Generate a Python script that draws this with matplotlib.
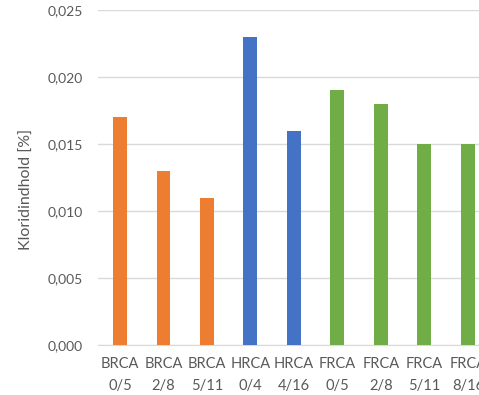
import matplotlib.pyplot as plt
from matplotlib.ticker import FuncFormatter

plt.rcParams['font.family'] = ['Lato', 'DejaVu Sans']

labels = ['BRCA\n0/5', 'BRCA\n2/8', 'BRCA\n5/11', 'HRCA\n0/4', 'HRCA\n4/16',
          'FRCA\n0/5', 'FRCA\n2/8', 'FRCA\n5/11', 'FRCA\n8/16']
values = [0.017, 0.013, 0.011, 0.023, 0.016, 0.019, 0.018, 0.015, 0.015]
groups = ['BR', 'BR', 'BR', 'HR', 'HR', 'FR', 'FR', 'FR', 'FR']
palette = {'BR': '#ED7D31', 'HR': '#4472C4', 'FR': '#70AD47'}

fig = plt.figure(figsize=(4.79, 3.95), dpi=100)
# plot area runs past the right edge of the figure, so the last column is clipped
ax = fig.add_axes([0.2051, 0.1266, 0.817, 0.848])

x = list(range(len(values)))
ax.bar(x, values, width=0.32, color=[palette[g] for g in groups], zorder=3)

ax.set_xlim(-0.5, 8.5)
ax.set_ylim(0, 0.025)
ax.set_yticks([0, 0.005, 0.010, 0.015, 0.020, 0.025])
ax.yaxis.set_major_formatter(FuncFormatter(lambda v, p: f'{v:.3f}'.replace('.', ',')))
ax.set_xticks(x)
ax.set_xticklabels(labels, linespacing=1.65, fontsize=10.5)

ax.grid(axis='y', color='#D9D9D9', lw=1, zorder=0)
for s in ['top', 'right', 'left']:
    ax.spines[s].set_visible(False)
ax.spines['bottom'].set_color('#D9D9D9')
ax.tick_params(axis='both', length=0, labelsize=10, colors='#595959')
ax.tick_params(axis='x', pad=9, labelsize=10.5)
ax.tick_params(axis='y', pad=11)

ax.set_ylabel('Kloridindhold [%]', fontsize=11.5, color='#595959', va='center')
ax.yaxis.set_label_coords(-0.182, 0.463)

fig.savefig('out.png', dpi=100)
